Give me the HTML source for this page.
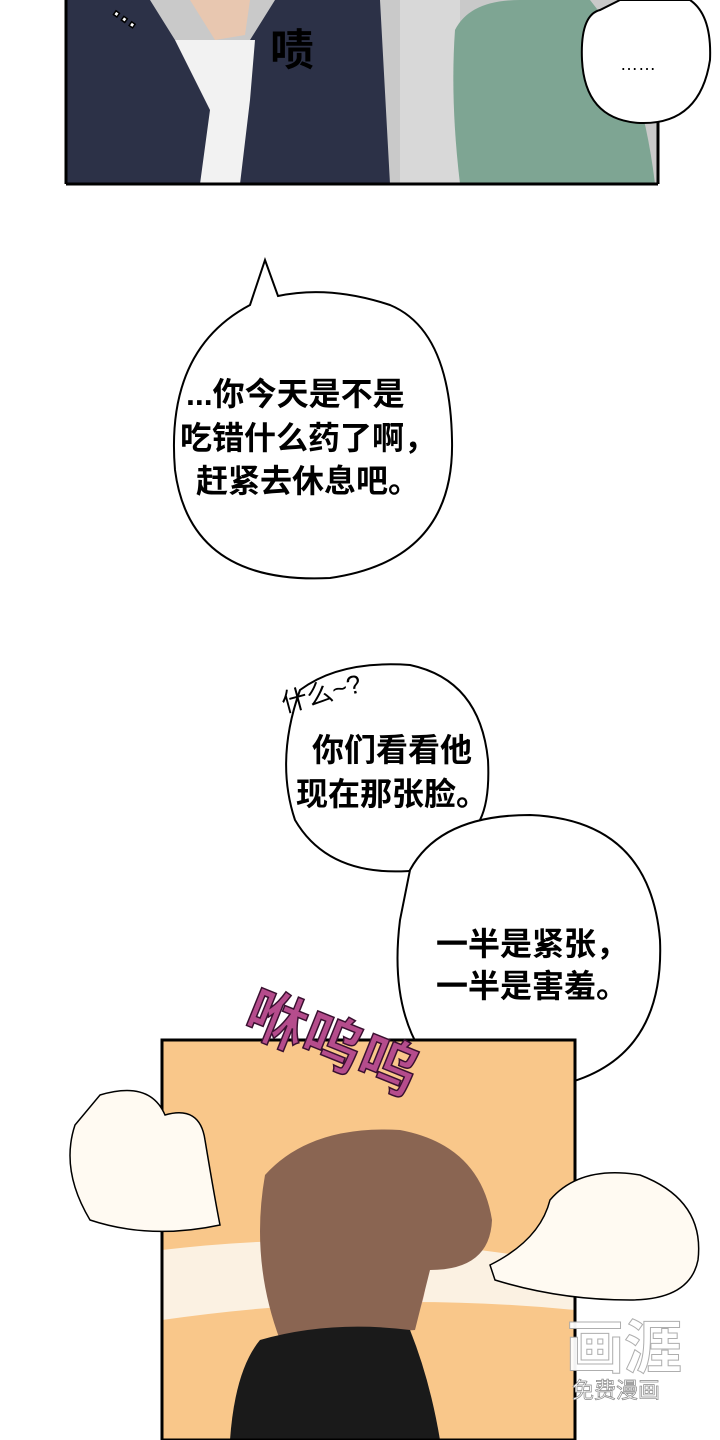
<!DOCTYPE html>
<html><head><meta charset="utf-8"><style>
html,body{margin:0;padding:0;background:#fff;}
svg{display:block}
text{font-family:"Liberation Sans","Noto Sans CJK SC",sans-serif;}
</style></head><body>
<svg width="720" height="1440" viewBox="0 0 720 1440" xmlns="http://www.w3.org/2000/svg">
<rect width="720" height="1440" fill="#fff"/>
<!-- top panel -->
<rect x="66" y="0" width="592" height="184" fill="#c9c9c9"/>
<rect x="400" y="0" width="60" height="184" fill="#d8d8d8"/>
<path d="M66 0 L150 0 L175 40 L250 40 L275 0 L380 0 L390 184 L66 184 Z" fill="#2c3147"/>
<path d="M175 40 L210 110 L200 184 L240 184 L250 100 L255 40 Z" fill="#f2f2f2"/>
<path d="M190 0 L250 0 L245 35 L215 40 Z" fill="#e8c7b0"/>
<path d="M455 30 Q470 0 520 0 L590 0 Q640 60 655 184 L460 184 Q450 100 455 30 Z" fill="#7ea593"/>
<text x="270" y="65" font-size="44" font-weight="bold" fill="#000">啧</text>
<text x="110" y="25" font-size="30" font-weight="bold" fill="#fff" stroke="#000" stroke-width="1.5" transform="rotate(35 130 20)">…</text>
<line x1="66" y1="184" x2="658" y2="184" stroke="#000" stroke-width="3"/>
<line x1="66" y1="0" x2="66" y2="184" stroke="#000" stroke-width="3"/>
<line x1="658" y1="0" x2="658" y2="184" stroke="#000" stroke-width="3"/>
<path d="M600 10 Q580 15 582 60 Q585 120 640 123 Q700 125 710 60 Q712 15 690 0 L620 0 Z" fill="#fff" stroke="#000" stroke-width="2"/>
<text x="620" y="70" font-size="18" fill="#000">……</text>
<!-- bubble 1 -->
<path d="M265 260 L278 296 Q330 285 390 305 Q450 330 452 440 Q455 560 330 578 Q190 585 175 470 Q165 350 250 305 Z" fill="#fff" stroke="#000" stroke-width="2"/>
<text x="186" y="405" font-size="32" font-weight="bold">...你今天是不是</text>
<text x="180" y="449" font-size="32" font-weight="bold">吃错什么药了啊，</text>
<text x="196" y="492" font-size="32" font-weight="bold">赶紧去休息吧。</text>
<!-- bubble 2 -->
<path d="M300 690 Q340 660 410 665 Q480 680 488 760 Q490 800 480 820 L420 870 Q330 880 295 820 Q275 760 300 690 Z" fill="#fff" stroke="#000" stroke-width="2"/>
<text x="280" y="700" font-size="26" transform="rotate(-15 330 690)">什么~?</text>
<text x="312" y="761" font-size="32" font-weight="bold">你们看看他</text>
<text x="296" y="805" font-size="32" font-weight="bold">现在那张脸。</text>
<!-- bubble 3 -->
<path d="M410 870 Q440 815 530 815 Q650 820 660 940 Q665 1060 560 1085 Q470 1095 420 1050 Q390 1000 400 920 Z" fill="#fff" stroke="#000" stroke-width="2"/>
<text x="436" y="955" font-size="32" font-weight="bold">一半是紧张，</text>
<text x="436" y="997" font-size="32" font-weight="bold">一半是害羞。</text>
<!-- bottom panel -->
<rect x="162" y="1040" width="413" height="400" fill="#f9c78a"/>
<path d="M162 1250 Q370 1225 575 1265 L575 1310 Q370 1290 162 1320 Z" fill="#fbf1e2"/>
<path d="M400 1260 Q420 1250 425 1290 Q420 1320 405 1330 Z" fill="#e7b3a0"/>
<path d="M265 1175 Q310 1125 400 1130 Q480 1145 492 1220 Q490 1270 430 1270 L415 1330 L280 1340 Q250 1260 265 1175 Z" fill="#8a6552"/>
<path d="M230 1440 Q235 1370 260 1340 Q330 1320 410 1330 Q430 1380 440 1440 Z" fill="#1a1a1a"/>
<rect x="162" y="1040" width="413" height="400" fill="none" stroke="#000" stroke-width="3"/>
<path d="M100 1095 Q150 1080 165 1115 Q200 1105 205 1140 Q215 1200 220 1225 Q150 1240 90 1220 Q60 1170 75 1125 Z" fill="#fffaf2" stroke="#000" stroke-width="1.5"/>
<path d="M490 1265 Q540 1240 550 1200 Q580 1165 640 1175 Q705 1200 698 1260 Q690 1300 630 1300 Q560 1300 495 1280 Z" fill="#fffaf2" stroke="#000" stroke-width="1.5"/>
<text x="232" y="1065" font-size="60" font-weight="bold" fill="#b54c8c" stroke="#3a1030" stroke-width="1.5" transform="rotate(22 330 1070)">咻呜呜</text>
<!-- watermark -->
<text x="566" y="1368" font-size="58" font-weight="bold" fill="#fff" stroke="#aaa" stroke-width="1" opacity="0.95">画涯</text>
<text x="572" y="1398" font-size="22" fill="#fff" stroke="#888" stroke-width="0.7">免费漫画</text>
</svg>
</body></html>
